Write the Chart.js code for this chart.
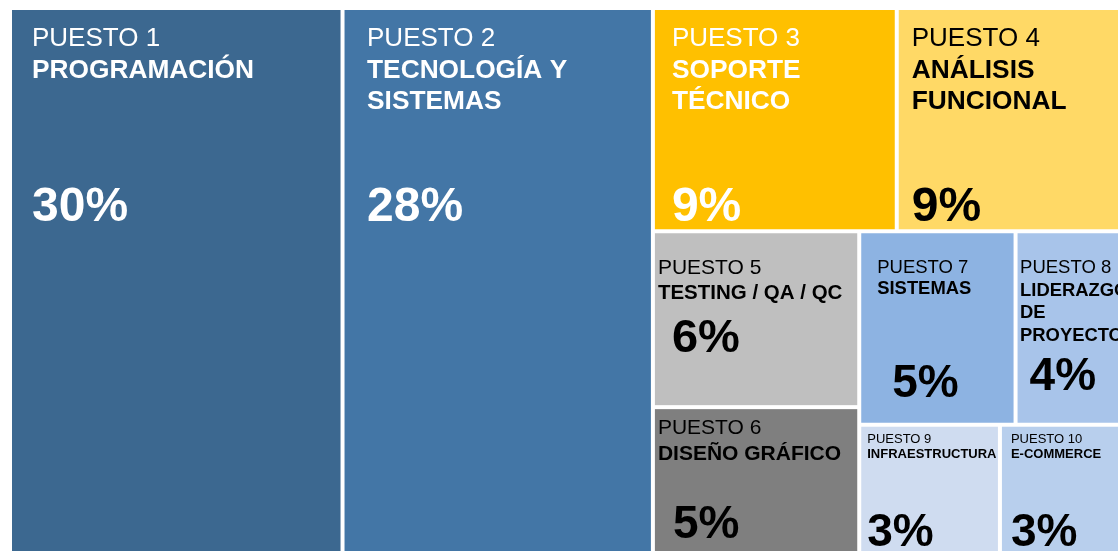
<!DOCTYPE html>
<html>
<head>
<meta charset="utf-8">
<script src="https://cdn.jsdelivr.net/npm/chart.js@4.4.1/dist/chart.umd.min.js"></script>
<style>
  html, body { margin: 0; padding: 0; background: #fff; }
</style>
</head>
<body>
<canvas id="treemap" width="1118" height="551"></canvas>
<script>
// datos del ranking
const puestos = ['PUESTO 1', 'PUESTO 2', 'PUESTO 3', 'PUESTO 4', 'PUESTO 5',
  'PUESTO 6', 'PUESTO 7', 'PUESTO 8', 'PUESTO 9', 'PUESTO 10'];
const areas = [['PROGRAMACIÓN'], ['TECNOLOGÍA Y', 'SISTEMAS'], ['SOPORTE', 'TÉCNICO'],
  ['ANÁLISIS', 'FUNCIONAL'], ['TESTING / QA / QC'], ['DISEÑO GRÁFICO'], ['SISTEMAS'],
  ['LIDERAZGO', 'DE', 'PROYECTO'], ['INFRAESTRUCTURA'], ['E-COMMERCE']];
const porcentajes = [30, 28, 9, 9, 6, 5, 5, 4, 3, 3];

// como se parte el rectangulo: 'h' = lado a lado, 'v' = uno encima de otro
const division = ['h', 0, 1, ['v', ['h', 2, 3], ['h', ['v', 4, 5], ['v', ['h', 6, 7], ['h', 8, 9]]]]];

const colores = ['#3c6890', '#4376a6', '#ffc000', '#ffd966', '#bfbfbf',
  '#7f7f7f', '#8db3e2', '#a8c4ea', '#cfdcf0', '#b8cfed'];

// texto: tamaños y desplazamientos dentro de cada celda
const estilos = [
  {c: '#fff', t: 26, b: 26.3, p: 48, lh: 31.5, dx: 20, dy: 36, px: 20, py: 211},
  {c: '#fff', t: 26, b: 26.3, p: 48, lh: 31.5, dx: 22.5, dy: 36, px: 22.5, py: 211},
  {c: '#fff', t: 26, b: 26.3, p: 48, lh: 31.5, dx: 17, dy: 36, px: 17, py: 211},
  {c: '#000', t: 26, b: 26.3, p: 48, lh: 31.5, dx: 13, dy: 36, px: 13, py: 211},
  {c: '#000', t: 21, b: 20.5, p: 47, lh: 25, dx: 3, dy: 41, px: 17, py: 119},
  {c: '#000', t: 21, b: 21, p: 46, lh: 26, dx: 3, dy: 25, px: 18, py: 129},
  {c: '#000', t: 18.5, b: 18.4, p: 46, lh: 21, dx: 16, dy: 40, px: 31, py: 164},
  {c: '#000', t: 18.5, b: 18.4, p: 46, lh: 22.5, dx: 2.5, dy: 40, px: 12, py: 157},
  {c: '#000', t: 13, b: 13, p: 46, lh: 15, dx: 6, dy: 16, px: 6, py: 119},
  {c: '#000', t: 13, b: 13, p: 46, lh: 15, dx: 9, dy: 16, px: 9, py: 119}
];

const FUENTE = '"Liberation Sans", Arial, sans-serif';
const HUECO = 2;

function suma(n) {
  if (typeof n === 'number') return porcentajes[n];
  return n.slice(1).reduce(function(s, k) { return s + suma(k); }, 0);
}

function repartir(n, x, y, w, h, out) {
  if (typeof n === 'number') {
    out[n] = {x: x + w / 2, y: y + h / 2, x0: x, y0: y, x1: x + w, y1: y + h, i: n};
    return;
  }
  const tot = suma(n);
  let pos = 0;
  n.slice(1).forEach(function(k) {
    const f = suma(k) / tot;
    if (n[0] === 'h') repartir(k, x + pos * w, y, f * w, h, out);
    else repartir(k, x, y + pos * h, w, f * h, out);
    pos += f;
  });
}

const celdas = [];
repartir(division, 0, 0, 1, 1, celdas);

const dibujarCeldas = {
  id: 'dibujarCeldas',
  afterDatasetsDraw(chart) {
    const ctx = chart.ctx;
    const xs = chart.scales.x;
    const ys = chart.scales.y;
    const area = chart.chartArea;
    ctx.save();
    ctx.beginPath();
    ctx.rect(area.left, area.top, area.right - area.left, area.bottom - area.top);
    ctx.clip();
    chart.data.datasets[0].data.forEach(function(r) {
      const x0 = xs.getPixelForValue(r.x0) + HUECO;
      const x1 = xs.getPixelForValue(r.x1) - HUECO;
      const y0 = ys.getPixelForValue(r.y0) + HUECO;
      const y1 = ys.getPixelForValue(r.y1) - HUECO;
      ctx.fillStyle = colores[r.i];
      ctx.fillRect(x0, y0, x1 - x0, y1 - y0);

      const e = estilos[r.i];
      ctx.save();
      ctx.beginPath();
      ctx.rect(x0, y0, x1 - x0, y1 - y0);
      ctx.clip();
      ctx.fillStyle = e.c;
      ctx.textBaseline = 'alphabetic';
      ctx.textAlign = 'left';
      ctx.font = e.t + 'px ' + FUENTE;
      ctx.fillText(puestos[r.i], x0 + e.dx, y0 + e.dy);
      ctx.font = 'bold ' + e.b + 'px ' + FUENTE;
      areas[r.i].forEach(function(linea, j) {
        ctx.fillText(linea, x0 + e.dx, y0 + e.dy + e.lh * (j + 1));
      });
      ctx.font = 'bold ' + e.p + 'px ' + FUENTE;
      ctx.fillText(porcentajes[r.i] + '%', x0 + e.px, y0 + e.py);
      ctx.restore();
    });
    ctx.restore();
  }
};

new Chart(document.getElementById('treemap'), {
  type: 'scatter',
  data: {
    datasets: [{
      label: 'Puestos',
      data: celdas,
      pointRadius: 0,
      pointHoverRadius: 0
    }]
  },
  options: {
    responsive: false,
    animation: false,
    events: [],
    layout: { padding: { left: 10, top: 8, right: 0, bottom: 0 } },
    scales: {
      x: { type: 'linear', display: false, min: 0, max: 0.98 },
      y: { type: 'linear', display: false, min: 0, max: 0.995, reverse: true }
    },
    plugins: {
      legend: { display: false },
      tooltip: { enabled: false }
    }
  },
  plugins: [dibujarCeldas]
});
</script>
</body>
</html>
